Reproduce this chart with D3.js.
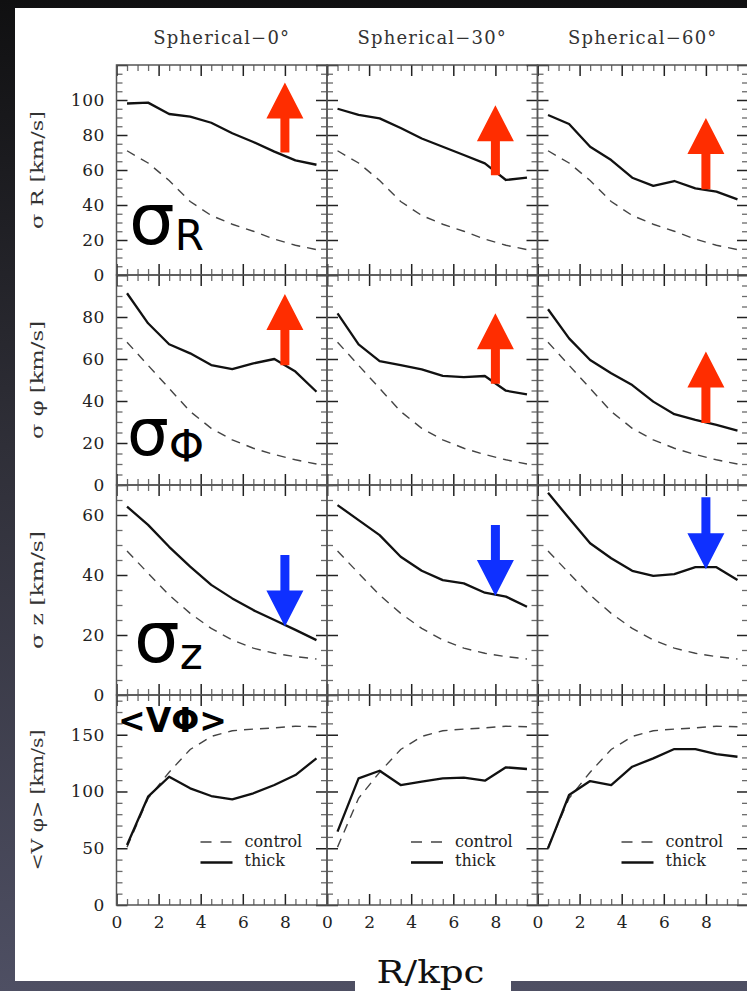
<!DOCTYPE html>
<html>
<head>
<meta charset="utf-8">
<script src="https://cdn.jsdelivr.net/npm/d3@7"></script>
<style>
  html, body { margin: 0; padding: 0; background: #1b1b1d; }
  svg { display: block; }
</style>
</head>
<body>
<svg id="chart" width="747" height="991"></svg>
<script>
// ---- data -------------------------------------------------------------
// radial bin centres (kpc)
const radii = [0.5, 1.5, 2.5, 3.5, 4.5, 5.5, 6.5, 7.5, 8.5, 9.5];

const columnTitles = ["Spherical\u22120\u00b0", "Spherical\u221230\u00b0", "Spherical\u221260\u00b0"];

// control disc (same in every column)
const controlSigmaR   = [71, 64, 54, 42, 34, 29, 25, 20.5, 17, 14.5];
const controlSigmaPhi = [68, 57, 46, 35, 27, 21.5, 17.5, 14.5, 12, 10];
const controlSigmaZ   = [48, 40.6, 33.3, 27.2, 22.2, 18.3, 15.6, 13.9, 12.8, 12];
const controlVphi     = [51, 94, 117, 137, 148.5, 153.5, 155, 156, 157.5, 157];

// thick disc, one array per inclination (0, 30, 60 deg)
const thickSigmaR0   = [98, 98.5, 92, 90.5, 87, 81, 76, 70.5, 65.5, 63];
const thickSigmaR30  = [95, 91.5, 89.5, 84, 78, 73.3, 68.6, 63.8, 54.3, 55.6];
const thickSigmaR60  = [91.4, 86.3, 73.3, 65.7, 55.6, 50.9, 53.7, 49.5, 47.6, 43.2];

const thickSigmaPhi0  = [91.3, 77, 67, 62.7, 57.1, 55.2, 57.9, 60, 54, 44.4];
const thickSigmaPhi30 = [81.7, 67, 59, 57.1, 55.1, 52, 51.4, 51.9, 44.9, 43.2];
const thickSigmaPhi60 = [83.7, 69.8, 59.5, 53.2, 47.6, 39.7, 33.7, 31, 28.6, 25.9];

const thickSigmaZ0  = [62.8, 56.7, 49.4, 42.8, 36.7, 32.2, 28.3, 25, 21.7, 18.3];
const thickSigmaZ30 = [63.3, 58.3, 53.3, 46.1, 41.4, 38.3, 37.2, 34.1, 32.8, 29.4];
const thickSigmaZ60 = [67.4, 58.9, 50.6, 45.6, 41.4, 39.7, 40.3, 42.6, 42.6, 38.3];

const thickVphi0  = [52.9, 95.4, 113, 102.8, 96, 93.1, 98.4, 105.7, 114.5, 129.2];
const thickVphi30 = [64.6, 111.6, 118.3, 105.7, 108.6, 111.6, 112.2, 109.5, 121.3, 119.8];
const thickVphi60 = [49.9, 96.9, 109.2, 105.7, 121.8, 129.2, 137.4, 137.4, 133, 130.6];

// axis ranges and tick steps per row
const yDomains    = [[0, 120], [0, 100], [0, 70], [0, 185]];
const yMajorTicks = [[0, 20, 40, 60, 80, 100, 120], [0, 20, 40, 60, 80, 100], [0, 20, 40, 60], [0, 50, 100, 150]];
const yTickLabels = [[0, 20, 40, 60, 80, 100], [0, 20, 40, 60, 80], [0, 20, 40, 60], [0, 50, 100, 150]];
const yMinorStep  = [5, 5, 5, 10];
const xMajorTicks = [0, 2, 4, 6, 8, 10];
const xTickLabels = [0, 2, 4, 6, 8];
const yTitles = ["\u03c3 R [km/s]", "\u03c3 \u03c6 [km/s]", "\u03c3 z [km/s]", "<V \u03c6> [km/s]"];
const legendLabels = ["control", "thick"];

// arrows marking the change at R = 8 kpc: [row, column, R, from, to]
const arrowMarks = [
  [0, 0, 8, 70, 110], [0, 1, 8, 57, 97], [0, 2, 8, 49, 89.7],
  [1, 0, 8, 57, 91], [1, 1, 8, 48.2, 81.8], [1, 2, 8, 29.5, 63.6],
  [2, 0, 8, 46.7, 22.8], [2, 1, 8, 56.7, 33], [2, 2, 8, 65.9, 41.9]
];

const rows = [
  { control: controlSigmaR,   thick: [thickSigmaR0, thickSigmaR30, thickSigmaR60] },
  { control: controlSigmaPhi, thick: [thickSigmaPhi0, thickSigmaPhi30, thickSigmaPhi60] },
  { control: controlSigmaZ,   thick: [thickSigmaZ0, thickSigmaZ30, thickSigmaZ60] },
  { control: controlVphi,     thick: [thickVphi0, thickVphi30, thickVphi60] }
];

// ---- layout -----------------------------------------------------------
const colLeft = [116.5, 327, 537.5];
const colW = 210.5;
const rowTop = [65, 275, 485, 695];
const rowH = 210;

const svg = d3.select("#chart");
const defs = svg.append("defs");
const grad = defs.append("linearGradient").attr("id", "bg").attr("x1", 0).attr("y1", 0).attr("x2", 0).attr("y2", 1);
grad.append("stop").attr("offset", "0%").attr("stop-color", "#101011");
grad.append("stop").attr("offset", "45%").attr("stop-color", "#2f2f38");
grad.append("stop").attr("offset", "100%").attr("stop-color", "#4e4f63");

svg.append("rect").attr("width", 747).attr("height", 991).attr("fill", "url(#bg)");
svg.append("rect").attr("x", 15).attr("y", 8).attr("width", 732).attr("height", 973).attr("fill", "#fff");
svg.append("rect").attr("x", 355).attr("y", 975).attr("width", 156).attr("height", 16).attr("fill", "#fff");

const serif = "'DejaVu Serif', 'Liberation Serif', serif";
const sans = "'DejaVu Sans', 'Noto Sans', sans-serif";

// column titles
columnTitles.forEach((t, c) => {
  svg.append("text")
    .attr("x", colLeft[c] + colW / 2).attr("y", 43.5)
    .attr("text-anchor", "middle")
    .attr("font-family", serif).attr("font-size", 18).attr("letter-spacing", 1.2)
    .attr("fill", "#333").text(t);
});

// y-axis titles
yTitles.forEach((t, r) => {
  const cy = rowTop[r] + rowH / 2;
  svg.append("text")
    .attr("transform", `translate(37,${cy}) rotate(-90)`)
    .attr("text-anchor", "middle").attr("dominant-baseline", "central")
    .attr("font-family", serif).attr("font-size", 16).attr("fill", "#333")
    .attr("textLength", r === 3 ? 141 : 118).attr("lengthAdjust", "spacingAndGlyphs")
    .text(t);
});

function minorRange(lo, hi, step) {
  const out = [];
  for (let v = lo; v <= hi + 1e-9; v += step) out.push(+v.toFixed(6));
  return out;
}

rows.forEach((row, r) => {
  colLeft.forEach((left, c) => {
    const g = svg.append("g").attr("transform", `translate(${left},${rowTop[r]})`);
    const x = d3.scaleLinear().domain([0, 10]).range([0, colW]);
    const y = d3.scaleLinear().domain(yDomains[r]).range([rowH, 0]);

    const xMinor = minorRange(0, 10, 0.5).filter(v => !xMajorTicks.includes(v));
    const yMinor = minorRange(yDomains[r][0], yDomains[r][1], yMinorStep[r]).filter(v => !yMajorTicks[r].includes(v));

    const styleAxis = (sel, color, w) => {
      sel.select(".domain").remove();
      sel.selectAll(".tick line").attr("stroke", color).attr("stroke-width", w);
      sel.selectAll(".tick text").remove();
    };

    // minor ticks, all four sides, pointing inward
    [[d3.axisBottom(x), `translate(0,${rowH})`, xMinor],
     [d3.axisTop(x), null, xMinor],
     [d3.axisLeft(y), null, yMinor],
     [d3.axisRight(y), `translate(${colW},0)`, yMinor]].forEach(([ax, tr, vals]) => {
      const a = g.append("g").call(ax.tickValues(vals).tickSize(-6).tickSizeOuter(0));
      if (tr) a.attr("transform", tr);
      styleAxis(a, "#6a6a6a", 1.3);
    });
    // major ticks
    [[d3.axisBottom(x), `translate(0,${rowH})`, xMajorTicks],
     [d3.axisTop(x), null, xMajorTicks],
     [d3.axisLeft(y), null, yMajorTicks[r]],
     [d3.axisRight(y), `translate(${colW},0)`, yMajorTicks[r]]].forEach(([ax, tr, vals]) => {
      const a = g.append("g").call(ax.tickValues(vals).tickSize(-11).tickSizeOuter(0));
      if (tr) a.attr("transform", tr);
      styleAxis(a, "#222", 1.5);
    });

    // frame
    g.append("rect").attr("width", colW).attr("height", rowH)
      .attr("fill", "none").attr("stroke", "#555").attr("stroke-width", 1.5);

    // tick labels
    if (c === 0) {
      const a = g.append("g").call(d3.axisLeft(y).tickValues(yTickLabels[r]).tickSize(0).tickPadding(11.5));
      a.select(".domain").remove();
      a.selectAll("text").attr("font-family", serif).attr("font-size", 17).attr("letter-spacing", 0.6).attr("fill", "#222");
    }
    if (r === 3) {
      const a = g.append("g").attr("transform", `translate(0,${rowH})`)
        .call(d3.axisBottom(x).tickValues(xTickLabels).tickSize(0).tickPadding(11));
      a.select(".domain").remove();
      a.selectAll("text").attr("font-family", serif).attr("font-size", 17).attr("fill", "#222");
    }

    const line = d3.line().x(d => x(d[0])).y(d => y(d[1]));
    g.append("path").datum(radii.map((rad, i) => [rad, row.control[i]]))
      .attr("d", line).attr("fill", "none").attr("stroke", "#444")
      .attr("stroke-width", 1.4).attr("stroke-dasharray", "9,7");
    g.append("path").datum(radii.map((rad, i) => [rad, row.thick[c][i]]))
      .attr("d", line).attr("fill", "none").attr("stroke", "#111")
      .attr("stroke-width", 2.3).attr("stroke-linejoin", "round");

    // legend in the bottom row
    if (r === 3) {
      const lg = g.append("g");
      lg.append("line").attr("x1", 84).attr("x2", 116).attr("y1", 147).attr("y2", 147)
        .attr("stroke", "#444").attr("stroke-width", 1.4).attr("stroke-dasharray", "11,9");
      lg.append("line").attr("x1", 84).attr("x2", 116).attr("y1", 167.5).attr("y2", 167.5)
        .attr("stroke", "#111").attr("stroke-width", 2.6);
      lg.append("text").attr("x", 128).attr("y", 151.5).attr("font-family", serif)
        .attr("font-size", 16).attr("fill", "#222").text(legendLabels[0]);
      lg.append("text").attr("x", 128).attr("y", 171).attr("font-family", serif)
        .attr("font-size", 16).attr("fill", "#222").text(legendLabels[1]);
    }

    // arrows
    arrowMarks.filter(m => m[0] === r && m[1] === c).forEach(m => {
      const ax = x(m[2]), y0 = y(m[3]), y1 = y(m[4]);
      const dir = y1 < y0 ? -1 : 1;
      const headLen = 36, headHalf = 18.5, shaftHalf = 4.5;
      const yb = y1 - dir * headLen;
      const pts = [
        [ax - shaftHalf, y0], [ax - shaftHalf, yb], [ax - headHalf, yb], [ax, y1],
        [ax + headHalf, yb], [ax + shaftHalf, yb], [ax + shaftHalf, y0]
      ];
      g.append("polygon").attr("points", pts.map(p => p.join(",")).join(" "))
        .attr("fill", dir < 0 ? "#ff2d00" : "#0f30ff");
    });
  });
});

// large quantity labels
function bigLabel(xp, yp, main, mainSize, sub, subSize, subDy, weight) {
  const t = svg.append("text").attr("x", xp).attr("y", yp)
    .attr("font-family", sans).attr("font-weight", weight || "normal").attr("fill", "#000");
  t.append("tspan").attr("font-size", mainSize).text(main);
  if (sub) t.append("tspan").attr("font-size", subSize).attr("dy", subDy).text(sub);
}
bigLabel(129, 244, "\u03c3", 72, "R", 42, 6);
bigLabel(127, 455, "\u03c3", 66, "\u03a6", 45, 7);
bigLabel(134, 662, "\u03c3", 72, "z", 44, 7);
bigLabel(118, 732, "<V\u03a6>", 33, null, 0, 0, "bold");

// x-axis title
svg.append("text").attr("x", 376.5).attr("y", 983)
  .attr("font-family", serif).attr("font-size", 31).attr("fill", "#111")
  .attr("textLength", 108).attr("lengthAdjust", "spacingAndGlyphs")
  .text("R/kpc");
</script>
</body>
</html>
